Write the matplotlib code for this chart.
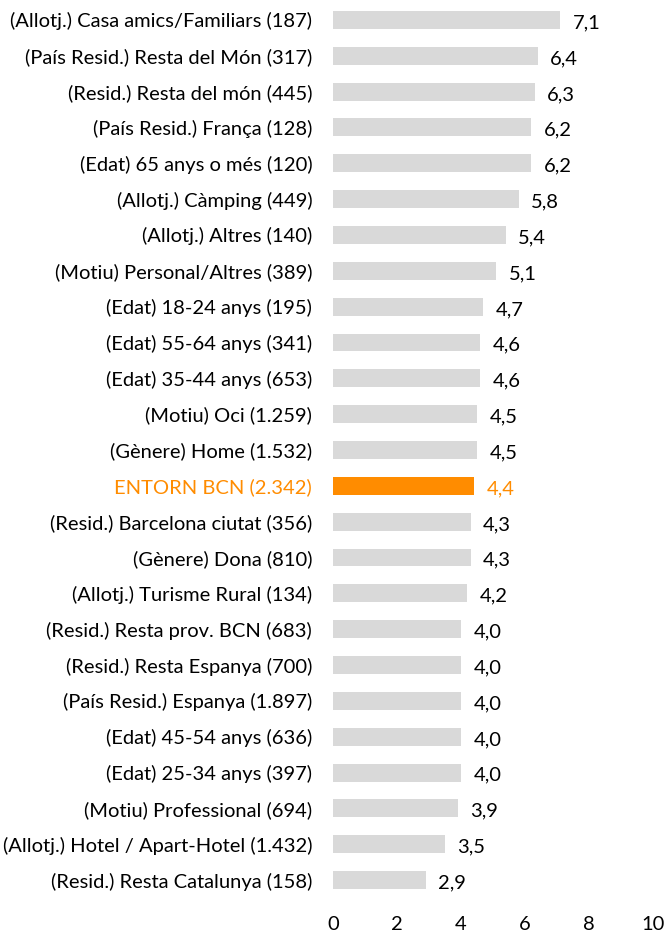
import matplotlib
matplotlib.use("Agg")
import matplotlib.pyplot as plt

categories = [
    "(Allotj.) Casa amics/Familiars (187)",
    "(País Resid.) Resta del Món (317)",
    "(Resid.) Resta del món (445)",
    "(País Resid.) França (128)",
    "(Edat) 65 anys o més (120)",
    "(Allotj.) Càmping (449)",
    "(Allotj.) Altres (140)",
    "(Motiu) Personal/Altres (389)",
    "(Edat) 18-24 anys (195)",
    "(Edat) 55-64 anys (341)",
    "(Edat) 35-44 anys (653)",
    "(Motiu) Oci (1.259)",
    "(Gènere) Home (1.532)",
    "ENTORN BCN (2.342)",
    "(Resid.) Barcelona ciutat (356)",
    "(Gènere) Dona (810)",
    "(Allotj.) Turisme Rural (134)",
    "(Resid.) Resta prov. BCN (683)",
    "(Resid.) Resta Espanya (700)",
    "(País Resid.) Espanya (1.897)",
    "(Edat) 45-54 anys (636)",
    "(Edat) 25-34 anys (397)",
    "(Motiu) Professional (694)",
    "(Allotj.) Hotel / Apart-Hotel (1.432)",
    "(Resid.) Resta Catalunya (158)",
]
values = [7.1, 6.4, 6.3, 6.2, 6.2, 5.8, 5.4, 5.1, 4.7, 4.6, 4.6, 4.5, 4.5, 4.4,
          4.3, 4.3, 4.2, 4.0, 4.0, 4.0, 4.0, 4.0, 3.9, 3.5, 2.9]
highlight = "ENTORN BCN (2.342)"
xticks = [0, 2, 4, 6, 8, 10]

GRAY = "#D9D9D9"
ORANGE = "#FF8C00"
plt.rcParams['font.family'] = ['Lato', 'DejaVu Sans']
FS = 14.5

W, H = 667, 936
fig = plt.figure(figsize=(W / 100, H / 100), dpi=100)
left, right = 333 / W, 653 / W
top_px, bot_px = 2, 898
ax = fig.add_axes([left, 1 - bot_px / H, right - left, (bot_px - top_px) / H])

ypos = list(range(len(categories)))
colors = [ORANGE if c == highlight else GRAY for c in categories]
ax.barh(ypos, values, height=0.5, color=colors)
ax.set_ylim(len(categories) - 0.5, -0.5)
ax.set_xlim(0, 10)
ax.set_yticks(ypos)
ax.set_yticklabels(categories, fontsize=FS)
for lbl, c in zip(ax.get_yticklabels(), categories):
    if c == highlight:
        lbl.set_color(ORANGE)
ax.set_xticks(xticks)
ax.set_xticklabels([str(t) for t in xticks], fontsize=FS)
ax.tick_params(axis='both', length=0)
ax.tick_params(axis='y', pad=15)
ax.tick_params(axis='x', pad=13)
for s in ax.spines.values():
    s.set_visible(False)

for y, v, c in zip(ypos, values, categories):
    ax.annotate(f"{v:.1f}".replace(".", ","), xy=(v, y), xytext=(9, -2),
                textcoords="offset points", va="center", ha="left", fontsize=FS,
                color=ORANGE if c == highlight else "black")

fig.savefig("out.png", dpi=100)
